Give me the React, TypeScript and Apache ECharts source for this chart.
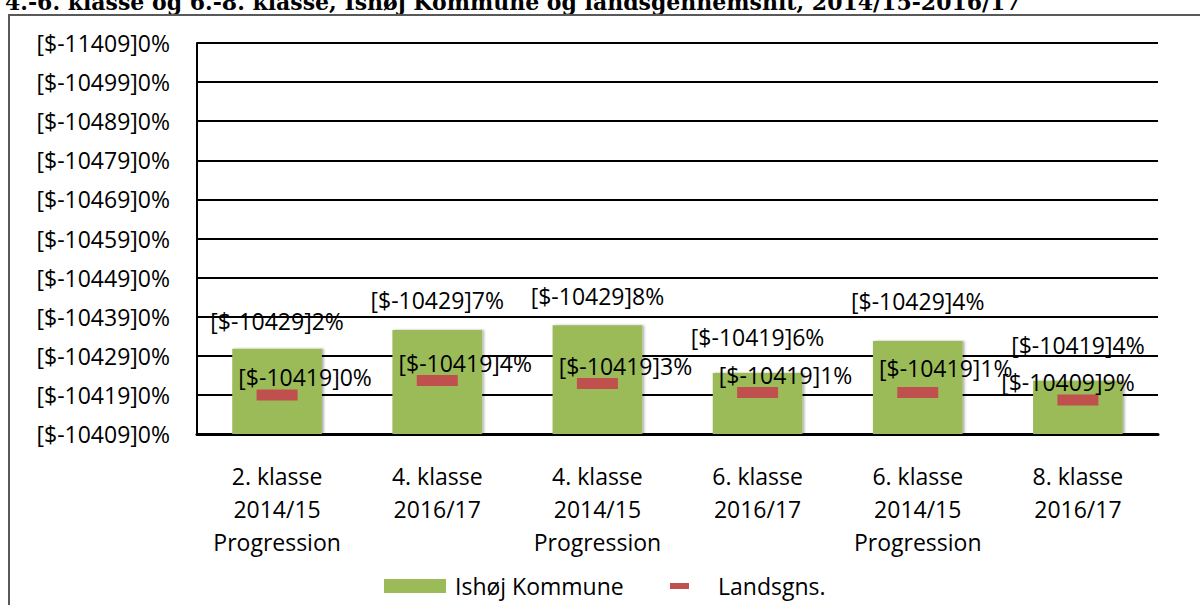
import React, { useEffect, useRef } from "react";
import * as echarts from "echarts";

const categories = [
  "2. klasse\n2014/15\nProgression",
  "4. klasse\n2016/17",
  "4. klasse\n2014/15\nProgression",
  "6. klasse\n2016/17",
  "6. klasse\n2014/15\nProgression",
  "8. klasse\n2016/17",
];
const ishojValues = [21.8, 26.6, 27.8, 15.6, 23.8, 13.6];
const landsValues = [10.0, 13.7, 12.9, 10.6, 10.6, 8.7];
const yTicks = [0, 10, 20, 30, 40, 50, 60, 70, 80, 90, 100];
const titleText =
  "4.-6. klasse og 6.-8. klasse, Ishøj Kommune og landsgennemsnit, 2014/15-2016/17";

// layout nudges for the data labels (pixels), kept apart from the data
const ishojLabelDy = [0, -2, -1, -8, -12, -8];
const landsLabelDx = [0, 0, 0, 0, 0, -38];
const landsLabelDy = [0, 0, 0, 0, -7, 0];

const FONT = "'Open Sans', sans-serif";

function fmt(v: number): string {
  const r = Math.round(v);
  const h = Math.floor(r / 100);
  const t = Math.floor(r / 10) % 10;
  const o = r % 10;
  return `[$-1${h}4${t}9]${o}%`;
}

export default function App() {
  const ref = useRef<HTMLDivElement>(null);
  useEffect(() => {
    if (!ref.current) return;
    const chart = echarts.init(ref.current, null, { renderer: "svg" });
    const labelStyle = {
      color: "#000",
      fontFamily: FONT,
      fontSize: 23,
      lineHeight: 24,
    };
    chart.setOption({
      animation: false,
      backgroundColor: "#fff",
      textStyle: { fontFamily: FONT },
      grid: { left: 197, right: 42, top: 43, bottom: 171, containLabel: false },
      graphic: [
        {
          type: "text",
          left: 5,
          top: -9,
          style: {
            text: titleText,
            font: "bold 22px 'DejaVu Serif', serif",
            fill: "#000",
          },
        },
        {
          type: "rect",
          shape: { x: 9, y: 15, width: 1300, height: 700 },
          style: { fill: "none", stroke: "#595959", lineWidth: 2 },
          silent: true,
        },
      ],
      legend: [
        {
          data: ["Ishøj Kommune"],
          left: 379,
          top: 569,
          icon: "rect",
          itemWidth: 62,
          itemHeight: 14,
          selectedMode: false,
          itemStyle: { shadowBlur: 0, shadowOffsetX: 0 },
          textStyle: { ...labelStyle, padding: [0, 0, 0, 4] },
        },
        {
          data: ["Landsgns."],
          left: 665,
          top: 569,
          icon: "rect",
          itemWidth: 19,
          itemHeight: 6,
          selectedMode: false,
          textStyle: { ...labelStyle, padding: [0, 0, 0, 24] },
        },
      ],
      xAxis: {
        type: "category",
        data: categories,
        axisLine: { lineStyle: { color: "#000", width: 3 } },
        axisTick: { show: false },
        axisLabel: {
          interval: 0,
          margin: 25,
          color: "#000",
          fontFamily: FONT,
          fontSize: 23,
          lineHeight: 33,
        },
      },
      yAxis: {
        type: "value",
        min: yTicks[0],
        max: yTicks[yTicks.length - 1],
        interval: yTicks[1] - yTicks[0],
        axisLine: { show: true, lineStyle: { color: "#000", width: 2 } },
        axisTick: { show: false },
        splitLine: { lineStyle: { color: "#000", width: 2 } },
        axisLabel: {
          margin: 27,
          color: "#000",
          fontFamily: FONT,
          fontSize: 23,
          padding: [14, 0, 0, 0],
          formatter: (v: number) => fmt(v),
        },
      },
      series: [
        {
          name: "Ishøj Kommune",
          type: "bar",
          barWidth: "56%",
          data: ishojValues.map((v, i) => ({
            value: v,
            label: { offset: [0, ishojLabelDy[i]] },
          })),
          itemStyle: {
            color: "#9BBB59",
            shadowColor: "rgba(0,0,0,0.3)",
            shadowBlur: 2,
            shadowOffsetX: 2,
            shadowOffsetY: 0,
          },
          label: {
            show: true,
            position: "top",
            distance: 16,
            ...labelStyle,
            formatter: (p: any) => fmt(p.value),
          },
          z: 2,
        },
        {
          name: "Landsgns.",
          type: "scatter",
          symbol: "rect",
          symbolSize: [41, 11],
          data: landsValues.map((v, i) => ({
            value: v,
            label: { offset: [28 + landsLabelDx[i], landsLabelDy[i]] },
          })),
          itemStyle: { color: "#C0504D", opacity: 1 },
          label: {
            show: true,
            position: "top",
            distance: 0,
            ...labelStyle,
            formatter: (p: any) => fmt(p.value),
          },
          z: 3,
        },
      ],
    });
    return () => chart.dispose();
  }, []);
  return (
    <div
      ref={ref}
      style={{ position: "absolute", left: 0, top: 0, width: 1200, height: 605 }}
    />
  );
}
